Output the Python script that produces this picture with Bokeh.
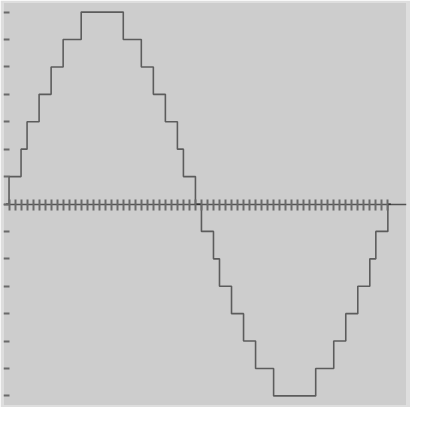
from bokeh.plotting import figure
from bokeh.models import LinearAxis, FixedTicker, Range1d
from bokeh.embed import file_html
from bokeh.resources import INLINE

# quantized sine samples (index, level)
sample_index = list(range(65))
levels = [0, 1, 1, 2, 3, 3, 4, 4, 5, 5, 6, 6, 6, 7, 7, 7, 7, 7, 7, 7,
          6, 6, 6, 5, 5, 4, 4, 3, 3, 2, 1, 1,
          0, -1, -1, -2, -3, -3, -4, -4, -5, -5, -6, -6, -6, -7, -7, -7, -7, -7, -7, -7,
          -6, -6, -6, -5, -5, -4, -4, -3, -3, -2, -1, -1, 0]

x_ticks = [i + 0.5 for i in range(64)]
y_ticks = list(range(-7, 8))

x_start, x_end = -0.42, 66.6
y_start, y_end = -7.35, 7.35

p = figure(width=410, height=407,
           x_range=Range1d(x_start, x_end), y_range=Range1d(y_start, y_end),
           x_axis_location=None, y_axis_location=None,
           toolbar_location=None, output_backend="svg",
           min_border_left=3, min_border_right=4, min_border_top=2, min_border_bottom=2,
           background_fill_color="#cdcdcd", border_fill_color="#dedede",
           outline_line_color=None)
p.grid.visible = False

xaxis = LinearAxis(fixed_location=0, ticker=FixedTicker(ticks=x_ticks),
                   major_tick_in=5, major_tick_out=6,
                   major_tick_line_color="#6a6a6a", major_tick_line_width=2,
                   minor_tick_line_color=None,
                   axis_line_color="black", axis_line_alpha=0.6, axis_line_width=1.5,
                   major_label_text_color=None, major_label_standoff=0)
p.add_layout(xaxis, "below")

yaxis = LinearAxis(fixed_location=x_start, ticker=FixedTicker(ticks=y_ticks),
                   major_tick_in=6, major_tick_out=0,
                   major_tick_line_color="#6a6a6a", major_tick_line_width=2,
                   minor_tick_line_color=None, axis_line_color=None,
                   major_label_text_color=None, major_label_standoff=0)
p.add_layout(yaxis, "left")

p.step(sample_index, levels, mode="center", line_color="black",
       line_alpha=0.55, line_width=1.6)

open("out.html", "w").write(file_html(p, INLINE))
